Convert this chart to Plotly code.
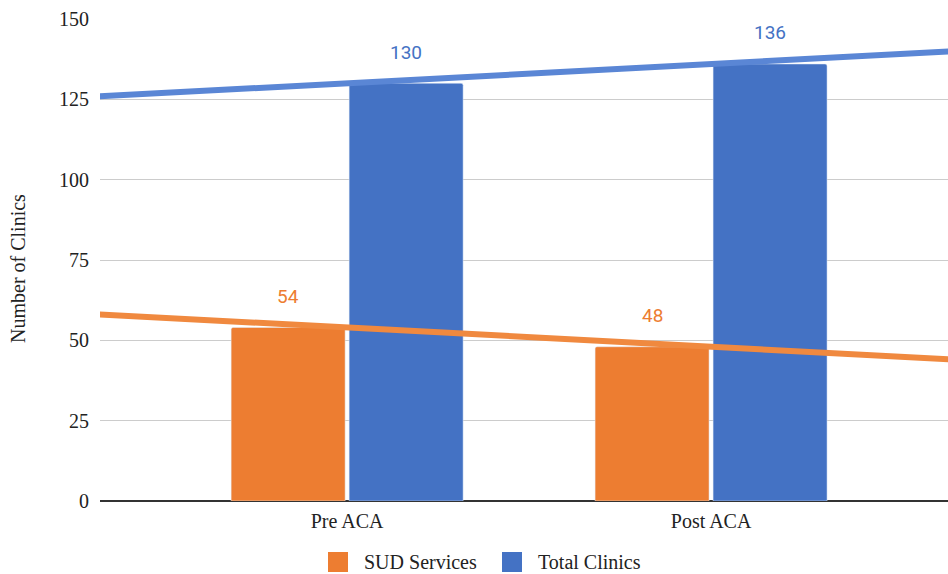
import numpy as np
import plotly.graph_objects as go

# Clinic counts before and after the ACA
categories = ["Pre ACA", "Post ACA"]
sud_services = [54, 48]
total_clinics = [130, 136]
y_ticks = [0, 25, 50, 75, 100, 125, 150]
series_names = ["SUD Services", "Total Clinics"]

ORANGE = "#ED7D31"
BLUE = "#4472C4"
ORANGE_TREND = "#F0893F"
BLUE_TREND = "#5A86D5"

W, H = 948, 574
ML, MR, MT, MB = 100, 0, 19, 73
PW, PH = W - ML - MR, H - MT - MB

x = np.arange(len(categories))
bargap = 0.3516
bargroupgap = 0.034
slot = (1 - bargap) / 2  # width of each series slot, in category units

fig = go.Figure()
fig.add_trace(go.Bar(x=x, y=sud_services, name=series_names[0], showlegend=False,
                     marker=dict(color=ORANGE, cornerradius=2)))
fig.add_trace(go.Bar(x=x, y=total_clinics, name=series_names[1], showlegend=False,
                     marker=dict(color=BLUE, cornerradius=2)))

# Linear trend lines for each series
x_line = np.array([-1.0, 2.0])
for vals, col in [(sud_services, ORANGE_TREND), (total_clinics, BLUE_TREND)]:
    m, b = np.polyfit(x, vals, 1)
    fig.add_trace(go.Scatter(x=x_line, y=m * x_line + b, mode="lines",
                             line=dict(color=col, width=6),
                             showlegend=False, hoverinfo="skip"))

# Value labels above each bar
annotations = []
for vals, col, off in [(sud_services, ORANGE, -slot / 2), (total_clinics, BLUE, slot / 2)]:
    for xi, v in zip(x, vals):
        annotations.append(dict(x=xi + off, y=v, text=str(v), showarrow=False,
                                yshift=31, font=dict(family="Roboto, Arial, sans-serif",
                                                     size=19, color=col)))

serif = "Liberation Serif, Times New Roman, serif"


def px_x(p):
    return (p - ML) / PW


def px_y(p):
    return (H - MB - p) / PH


# Legend drawn as swatches with labels below the plot
shapes = []
legend_items = [(series_names[0], ORANGE, 328), (series_names[1], BLUE, 502)]
for name, col, left in legend_items:
    shapes.append(dict(type="rect", xref="paper", yref="paper",
                       x0=px_x(left), x1=px_x(left + 20), y0=px_y(572), y1=px_y(552),
                       fillcolor=col, line=dict(width=0), layer="above"))
    annotations.append(dict(xref="paper", yref="paper", x=px_x(left + 34), y=px_y(562),
                            xanchor="left", yanchor="middle", text=name, showarrow=False,
                            font=dict(family=serif, size=20, color="#222")))

# Axis title
annotations.append(dict(xref="paper", yref="paper", x=px_x(18), y=px_y(269),
                        xanchor="center", yanchor="middle", text="Number of Clinics",
                        textangle=-90, showarrow=False,
                        font=dict(family=serif, size=20, color="#222")))

fig.update_layout(
    width=W, height=H,
    margin=dict(l=ML, r=MR, t=MT, b=MB),
    paper_bgcolor="white", plot_bgcolor="white",
    barmode="group", bargap=bargap, bargroupgap=bargroupgap,
    annotations=annotations, shapes=shapes, showlegend=False,
    font=dict(family=serif, size=20, color="#222"),
    xaxis=dict(range=[-0.679, 1.651], tickvals=list(x), ticktext=categories,
               showgrid=False, zeroline=False, showline=False, ticks="",
               automargin=False, ticklabelstandoff=6,
               tickfont=dict(family=serif, size=20, color="#222")),
    yaxis=dict(range=[0, 150], tickvals=y_ticks, showgrid=True, gridcolor="#CCCCCC",
               gridwidth=1, zeroline=True, zerolinecolor="#333333", zerolinewidth=1.5,
               ticks="", ticklabelstandoff=10, automargin=False,
               tickfont=dict(family=serif, size=20, color="#222")),
)

fig.write_html("out.html")
